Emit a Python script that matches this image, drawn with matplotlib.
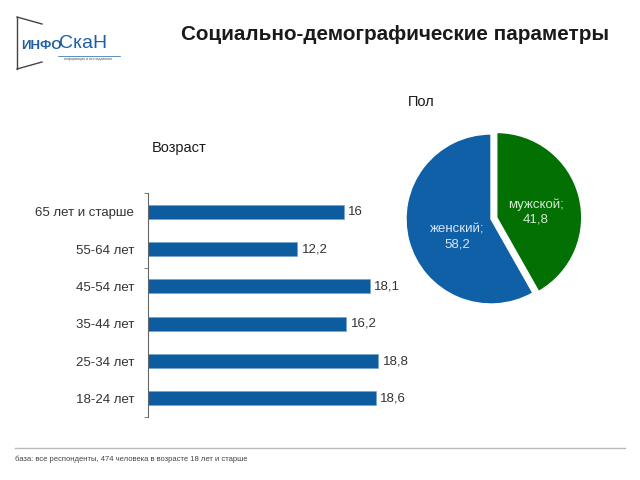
import matplotlib

matplotlib.use("Agg")
import matplotlib.pyplot as plt
import numpy as np

plt.rcParams["font.family"] = ["Liberation Sans", "DejaVu Sans"]

TITLE = "Социально-демографические параметры"
FOOTNOTE = "база: все респонденты, 474 человека в возрасте 18 лет и старше"

age_groups = ["18-24 лет", "25-34 лет", "35-44 лет", "45-54 лет", "55-64 лет", "65 лет и старше"]
age_values = [18.6, 18.8, 16.2, 18.1, 12.2, 16.0]

sex_labels = ["мужской", "женский"]
sex_values = [41.8, 58.2]

BAR_BLUE = "#0d5c9f"
PIE_BLUE = "#1060a8"
PIE_GREEN = "#027002"
TEXT = "#333333"


def fmt(v):
    s = f"{v:.1f}".replace(".", ",")
    return s[:-2] if s.endswith(",0") else s


fig = plt.figure(figsize=(6.4, 4.8), dpi=100)

# header
fig.text(181 / 640, 1 - 35 / 480, TITLE, fontsize=14.9, fontweight="bold",
         color="#1a1a1a", va="center", ha="left")

# logo
logo = fig.add_axes([0, 1 - 75 / 480, 130 / 640, 75 / 480])
logo.set_xlim(0, 130)
logo.set_ylim(75, 0)
logo.axis("off")
logo.plot([17, 17], [17, 69], color="#444444", lw=1.0)
logo.plot([17, 42], [17, 24], color="#444444", lw=1.0)
logo.plot([17, 42], [69, 62], color="#444444", lw=1.0)
logo.text(21, 46, "ИНФО", fontsize=9.5, fontweight="bold", color="#1f5fa6",
          va="center", ha="left")
logo.text(59, 44, "СкаН", fontsize=14, color="#1f5fa6", va="center", ha="left")
logo.plot([58, 120], [56, 56], color="#1f5fa6", lw=0.5)
logo.text(64, 59, "информация и исследования", fontsize=2.5, color="#555555",
          va="center", ha="left")

# age bars
ax = fig.add_axes([148 / 640, 1 - 417 / 480, 260 / 640, 224 / 480])
y = np.arange(len(age_groups))
ax.barh(y, age_values, height=0.38, color=BAR_BLUE, edgecolor="#6f9fcf", linewidth=0.4)
ax.set_ylim(-0.5, len(age_groups) - 0.5)
ax.set_xlim(0, 260 / 12.25)
ax.set_yticks(y)
ax.set_yticklabels(age_groups, fontsize=9.5, color=TEXT)
ax.tick_params(axis="y", length=0, pad=10)
ax.set_yticks([-0.5, 3.5, 5.5], minor=True)
ax.tick_params(axis="y", which="minor", length=3, color="#666666")
ax.set_xticks([])
for side in ["top", "right", "bottom"]:
    ax.spines[side].set_visible(False)
ax.spines["left"].set_color("#666666")
ax.spines["left"].set_linewidth(0.8)
for yi, v in zip(y, age_values):
    ax.annotate(fmt(v), (v, yi), xytext=(3, 0), textcoords="offset points",
                va="center", ha="left", fontsize=9.5, color=TEXT)
fig.text(152 / 640, 1 - 148 / 480, "Возраст", fontsize=10.5, color="#1a1a1a",
         va="center", ha="left")

# sex pie
r_px = 85
cx, cy = 491, 219
pax = fig.add_axes([(cx - 100) / 640, (480 - cy - 100) / 480, 200 / 640, 200 / 480])
lim = 100 / r_px
wedges, _ = pax.pie(sex_values, colors=[PIE_GREEN, PIE_BLUE], startangle=90,
                    counterclock=False, explode=[0.07, 0],
                    wedgeprops={"edgecolor": "white", "linewidth": 1.0})
pax.set_xlim(-lim, lim)
pax.set_ylim(-lim, lim)
pax.set_aspect("equal")
pax.axis("off")
pax.text(0.53, 0.08, f"{sex_labels[0]};\n{fmt(sex_values[0])}", ha="center", va="center",
         fontsize=9.5, color="#d5ead5", linespacing=1.3)
pax.text(-0.40, -0.21, f"{sex_labels[1]};\n{fmt(sex_values[1])}", ha="center", va="center",
         fontsize=9.5, color="#d8e6f4", linespacing=1.3)
fig.text(408 / 640, 1 - 102 / 480, "Пол", fontsize=10.5, color="#1a1a1a",
         va="center", ha="left")

# footer
fig.add_artist(plt.Line2D([15 / 640, 625 / 640], [1 - 448 / 480] * 2,
                          color="#bbbbbb", lw=1.0))
fig.text(15 / 640, 1 - 459 / 480, FOOTNOTE, fontsize=5.5, color="#444444",
         va="center", ha="left")

fig.savefig("out.png", dpi=100)
